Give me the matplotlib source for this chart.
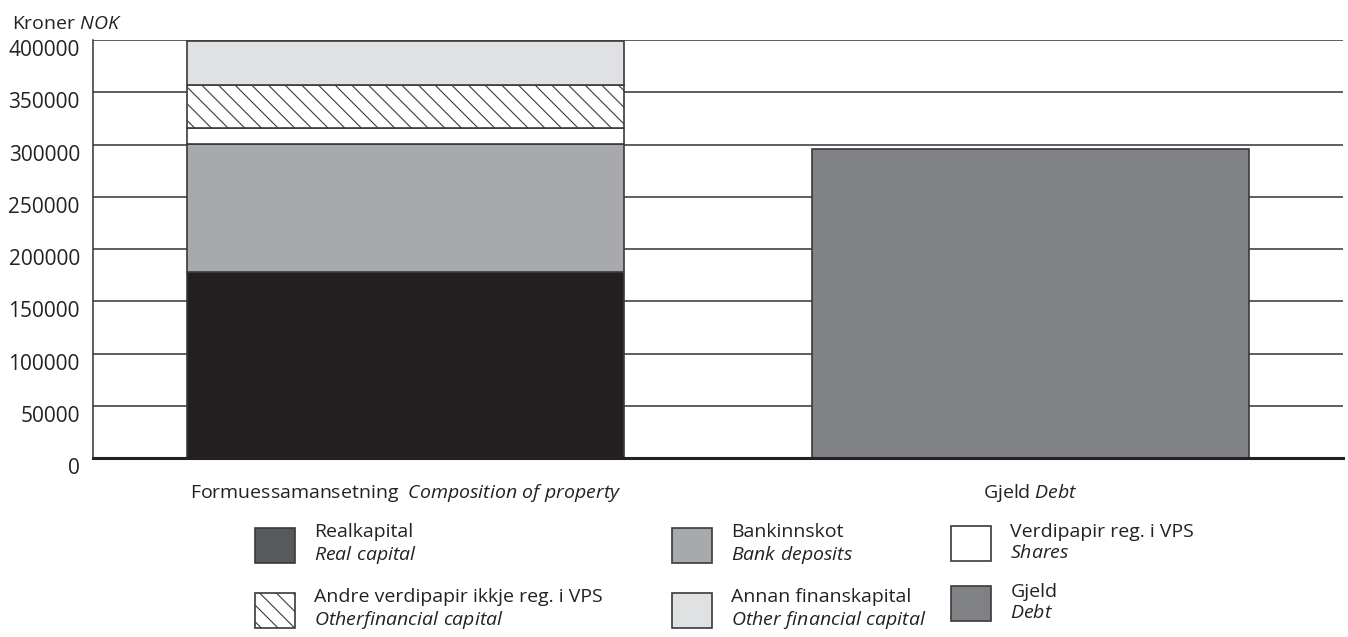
import matplotlib
matplotlib.use("Agg")
import matplotlib.pyplot as plt
import matplotlib.transforms as mtransforms
from matplotlib.patches import Patch
import numpy as np

plt.rcParams['font.family'] = ['Open Sans', 'DejaVu Sans']
plt.rcParams['mathtext.fontset'] = 'custom'
plt.rcParams['mathtext.rm'] = 'Open Sans'
plt.rcParams['mathtext.it'] = 'Open Sans:italic'
plt.rcParams['hatch.linewidth'] = 0.8

# data
categories = ['Formuessamansetning', 'Gjeld']
categories_en = ['Composition of property', 'Debt']
components = ['Realkapital', 'Bankinnskot', 'Verdipapir reg. i VPS',
              'Andre verdipapir ikkje reg. i VPS', 'Annan finanskapital']
components_en = ['Real capital', 'Bank deposits', 'Shares',
                 'Otherfinancial capital', 'Other financial capital']
property_values = [178000, 122500, 15000, 42000, 41500]
debt_value = 295400
yticks = [0, 50000, 100000, 150000, 200000, 250000, 300000, 350000, 400000]

bar_colors = ['#231f20', '#a7a9ac', '#ffffff', '#ffffff', '#e0e1e3']
legend_colors = ['#58595b', '#a7a9ac', '#ffffff', '#ffffff', '#e0e1e3']
hatches = [None, None, None, '\\\\', None]
debt_color = '#808184'
edge = '#3a3a3a'


def it(s):
    return r'$\mathit{' + s.replace(' ', r'\ ') + '}$'


fig = plt.figure(figsize=(13.48, 6.37), dpi=100)
ax = fig.add_axes([0.069, 0.281, 0.9273, 0.656])

x = np.arange(len(categories))
bottom = 0
for val, col, h in zip(property_values, bar_colors, hatches):
    ax.bar(x[0], val, bottom=bottom, width=0.7, color=col, edgecolor=edge,
           linewidth=1.2, hatch=h, zorder=3)
    bottom += val
ax.bar(x[1], debt_value, width=0.7, color=debt_color, edgecolor=edge,
       linewidth=1.2, zorder=3)

ax.set_xlim(-0.5, 1.5)
ax.set_ylim(0, 400000)
ax.set_yticks(yticks)
ax.set_yticklabels([str(v) for v in yticks], fontsize=15, color='#222222')
ax.yaxis.grid(True, color='#333333', linewidth=1.1, zorder=0)
ax.tick_params(axis='y', length=0, pad=9.5)
ax.tick_params(axis='x', length=0, pad=17)
off = mtransforms.ScaledTranslation(0, -0.08, fig.dpi_scale_trans)
for lab in ax.get_yticklabels():
    lab.set_transform(lab.get_transform() + off)

ax.set_xticks(x)
ax.set_xticklabels([categories[0] + '  ' + it(categories_en[0]),
                    categories[1] + ' ' + it(categories_en[1])],
                   fontsize=14, color='#222222')

for s in ['top', 'right']:
    ax.spines[s].set_visible(False)
ax.spines['left'].set_color('#333333')
ax.spines['left'].set_linewidth(1.1)
ax.spines['bottom'].set_color('#222222')
ax.spines['bottom'].set_linewidth(2.2)
ax.spines['bottom'].set_zorder(4)

fig.text(0.009, 0.955, 'Kroner ' + it('NOK'), fontsize=14, color='#222222')

# legend, three columns
handles = [Patch(facecolor=c, edgecolor=edge, hatch=h, linewidth=1.2)
           for c, h in zip(legend_colors, hatches)]
handles.append(Patch(facecolor=debt_color, edgecolor=edge, linewidth=1.2))
labels = [n + '\n' + it(e) for n, e in zip(components, components_en)]
labels.append('Gjeld\n' + it('Debt'))

col_items = [[0, 3], [1, 4], [2, 5]]
col_x = [0.189, 0.4985, 0.7055]
for xi, items in zip(col_x, col_items):
    leg = fig.legend([handles[i] for i in items], [labels[i] for i in items],
                     loc='upper left', bbox_to_anchor=(xi, 0.179),
                     frameon=False, fontsize=14, handlelength=2.05,
                     handleheight=2.4, handletextpad=1.0, labelspacing=1.1,
                     borderpad=0, borderaxespad=0)
    for t in leg.get_texts():
        t.set_color('#222222')

fig.savefig('out.png', dpi=100)
